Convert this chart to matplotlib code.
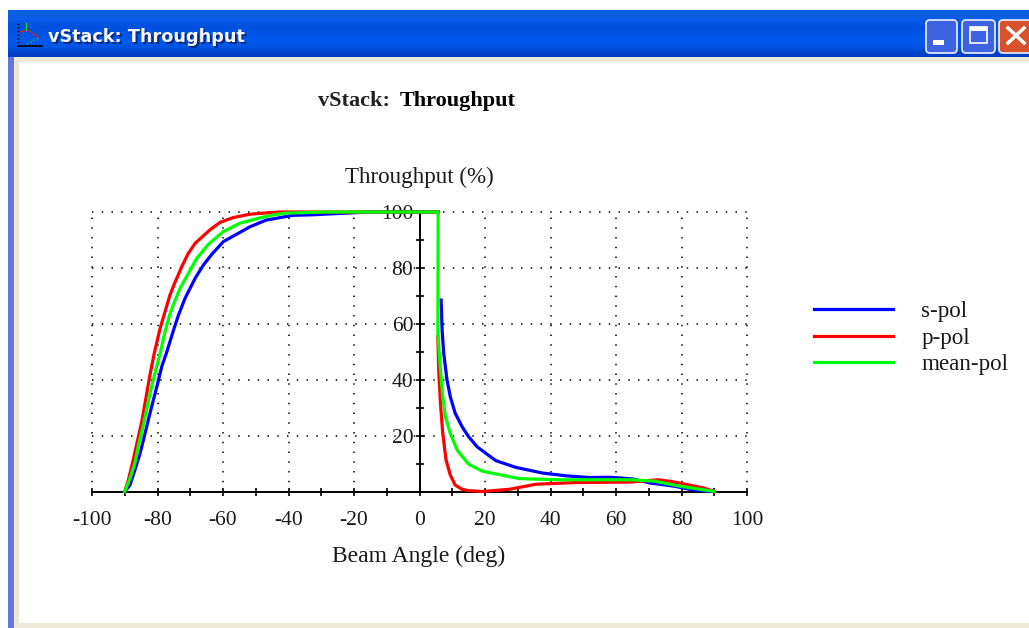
# vStack throughput window, angle vs throughput for s, p and mean polarisation
import numpy as np
import matplotlib
matplotlib.use('Agg')
import matplotlib.pyplot as plt
from matplotlib.patches import Rectangle, FancyBboxPatch
from matplotlib.ticker import MultipleLocator

plt.rcParams['axes.unicode_minus'] = False

W, H = 1029, 628

# incident side then the transmitted side
s_angle = [-90, -88.4, -86.9, -85.3, -83.8, -82.3, -80.2, -78.7, -77.2, -75.7, -74.9, -73.6, -71.6, -68.5, -66, -63.4, -59.9, -55.3, -51.8, -48.7, -46.8, -38.7, -32.7, -22.5, -15, 5.7,
           None, 6.6, 6.9, 7.4, 8.4, 9.4, 10.9, 13, 15, 17.6, 21.6, 23.4, 29.5, 37.6, 44.8, 51.9, 58, 65, 70.6, 74.7, 78.3, 83.3, 90]
s_pol = [0, 2.3, 7.7, 13.7, 20.8, 28, 37.5, 44.7, 49.8, 55.5, 58.5, 63.1, 69.1, 76.3, 81, 84.9, 89.4, 92.4, 94.7, 96.2, 97.1, 98.8, 99, 99.6, 100, 100,
         None, 68.5, 57.8, 49.4, 39.9, 33.9, 28, 23.2, 19.6, 16, 12.5, 11, 8.6, 6.6, 5.6, 5, 5.1, 4.5, 3, 2.4, 1.8, 0.6, 0]

p_angle = [-90, -88.9, -87.4, -86.3, -84.8, -83.3, -82.3, -81, -79.2, -77.7, -76.2, -74.6, -72.6, -70.6, -68.5, -64, -60.9, -56.9, -51.8, -48.7, -42.8, 5.7,
           None, 5.6, 5.9, 6.4, 7.1, 8.1, 9.4, 10.9, 13, 15, 19.3, 27.5, 35.6, 47.8, 64.6, 72.7, 76.8, 82, 87, 90]
p_pol = [0, 4.1, 11.3, 17.2, 25, 35, 41.7, 49.4, 58.4, 64.3, 70.3, 75, 80.4, 85.2, 88.8, 93.6, 96.3, 98, 99.2, 99.5, 100, 100,
         None, 55.4, 42.3, 31.6, 20.8, 11.3, 5.9, 2.3, 0.8, 0.3, 0, 0.8, 2.6, 3.2, 3.4, 4.2, 3.6, 2.4, 1.2, 0]

mean_angle = [-90, -88.4, -86.9, -85.9, -84.3, -82.3, -80.8, -79.2, -77.7, -76.2, -74.6, -73.1, -70.6, -68, -64.5, -59.9, -54.8, -48.7, -44.8, -40.8, -28.6, 5.7,
              5.6, 6.4, 7.1, 7.9, 9.4, 11.5, 15, 19.1, 21.6, 30.5, 42.7, 52, 64.6, 71.7, 80, 86.8, 90]
mean_pol = [0, 4.7, 10.1, 16, 23.8, 35, 42.3, 49.4, 57.2, 63.5, 68.5, 72.7, 78, 83.4, 88.4, 93, 96, 97.9, 98.9, 99.6, 100, 100,
            56.7, 43.5, 33.9, 26.8, 20.8, 14.8, 9.8, 7.3, 6.7, 4.6, 4.2, 4.2, 4.2, 3.7, 1.8, 0.6, 0]

x_ticks = [-100, -80, -60, -40, -20, 0, 20, 40, 60, 80, 100]
y_ticks = [20, 40, 60, 80, 100]

SERIF = 'Liberation Serif'

fig = plt.figure(figsize=(W / 100, H / 100), dpi=100, facecolor='white')

# window chrome, in pixel coordinates
chrome = fig.add_axes([0, 0, 1, 1], zorder=0)
chrome.axis('off')
chrome.add_patch(Rectangle((8, 57), W - 8, H - 57, color='#ece9d8', lw=0))
chrome.add_patch(Rectangle((19, 62), W - 19, H - 67, color='white', lw=0))
chrome.add_patch(Rectangle((8, 57), 6, H - 57, color='#6478dc', lw=0))
bar = np.array([[0.05, 0.38, 0.88], [0.03, 0.36, 0.92], [0.0, 0.31, 0.87], [0.0, 0.33, 0.90],
                [0.0, 0.35, 0.93], [0.0, 0.33, 0.90], [0.0, 0.25, 0.78]]).reshape(-1, 1, 3)
chrome.imshow(bar, extent=(8, W, 57, 10), aspect='auto', interpolation='bilinear', zorder=1)
chrome.set_xlim(0, W)
chrome.set_ylim(H, 0)

# little chart icon
chrome.plot([18, 18], [23, 45], color='black', lw=1, ls=':', zorder=2)
chrome.plot([18, 42], [45.5, 45.5], color='black', lw=1.2, zorder=2)
chrome.plot([20, 28, 38], [32, 30, 37], color='#d02030', lw=1, zorder=2)
chrome.plot([20, 30, 42], [43, 36, 28], color='#3050e0', lw=1, ls=':', zorder=2)
chrome.plot([26, 26], [23, 30], color='#20d020', lw=1, zorder=2)
chrome.plot([27, 40], [44, 37], color='#20d020', lw=1, ls=':', zorder=2)

chrome.text(50, 38.5, 'vStack: Throughput', color='#0a2a80', fontsize=12.7, fontweight='bold',
            family='DejaVu Sans', va='center', zorder=2)
chrome.text(48.5, 37.5, 'vStack: Throughput', color='#f4f6ff', fontsize=12.7, fontweight='bold',
            family='DejaVu Sans', va='center', zorder=3)

# caption buttons
for bx, bw, col in [(926, 31, '#3d63e0'), (962, 33, '#3d63e0'), (999, 33, '#d8502c')]:
    chrome.add_patch(FancyBboxPatch((bx, 20), bw, 33, boxstyle='round,pad=0,rounding_size=4',
                                    fc=col, ec='#dfe6fb', lw=1.3, zorder=2))
chrome.add_patch(Rectangle((933, 40), 11, 5, color='white', lw=0, zorder=3))
chrome.add_patch(Rectangle((970, 27), 17, 16, fill=False, ec='white', lw=1.2, zorder=3))
chrome.add_patch(Rectangle((970, 27), 17, 4, color='white', lw=0, zorder=3))
chrome.plot([1008, 1024], [28, 43], color='white', lw=2.5, zorder=3)
chrome.plot([1008, 1024], [43, 28], color='white', lw=2.5, zorder=3)

# the plot itself
ax = fig.add_axes([92 / W, 1 - 491.5 / H, 655 / W, 279.5 / H], zorder=1)
ax.patch.set_alpha(0)
ax.set_xlim(-100, 100)
ax.set_ylim(0, 100)

for gx in x_ticks:
    if gx != 0:
        ax.axvline(gx, color='#222222', lw=1.3, ls=(0, (0.8, 4.6)), clip_on=False, zorder=1)
for gy in y_ticks:
    ax.axhline(gy, color='#222222', lw=1.3, ls=(0, (0.8, 4.6)), clip_on=False, zorder=1)

for name in ['top', 'right']:
    ax.spines[name].set_visible(False)
ax.spines['left'].set_position(('data', 0))
ax.spines['bottom'].set_position(('data', 0))
ax.spines['left'].set_linewidth(1.4)
ax.spines['bottom'].set_linewidth(1.4)

s_x = np.array(s_angle, dtype=float)
s_y = np.array(s_pol, dtype=float)
p_x = np.array(p_angle, dtype=float)
p_y = np.array(p_pol, dtype=float)
line_s, = ax.plot(s_x, s_y, color='#0000ff', lw=2.3, label='s-pol', zorder=3, clip_on=False)
line_p, = ax.plot(p_x, p_y, color='#ff0000', lw=2.3, label='p-pol', zorder=4, clip_on=False)
line_m, = ax.plot(mean_angle, mean_pol, color='#00ff00', lw=2.3, label='mean-pol', zorder=5, clip_on=False)

ax.set_xticks(x_ticks)
ax.set_yticks(y_ticks)
ax.xaxis.set_minor_locator(MultipleLocator(10))
ax.yaxis.set_minor_locator(MultipleLocator(10))
ax.tick_params(axis='both', which='both', direction='inout', width=1.2, labelsize=15.5, color='black',
               labelcolor='#1a1a1a', length=6)
ax.tick_params(axis='x', which='major', pad=11)
ax.tick_params(axis='y', which='major', pad=1.5)
for lab in ax.get_xticklabels() + ax.get_yticklabels():
    lab.set_family(SERIF)

fig.text(318 / W, 1 - 106 / H, 'vStack:', family=SERIF, fontsize=16, fontweight='bold', va='baseline', color='#222222')
fig.text(400 / W, 1 - 106 / H, 'Throughput', family=SERIF, fontsize=16, fontweight='bold', va='baseline', color='black')
fig.text(419 / W, 1 - 177 / H, 'Throughput (%)', family=SERIF, fontsize=16.6, ha='center', va='center', color='#1a1a1a')
fig.text(418.5 / W, 1 - 556 / H, 'Beam Angle (deg)', family=SERIF, fontsize=17, ha='center', va='center', color='#1a1a1a')

leg = fig.legend(handles=[line_s, line_p, line_m], loc='center left', bbox_to_anchor=(793 / W, 1 - 338 / H),
                 frameon=False, handlelength=3.45, handletextpad=1.22, labelspacing=0.22,
                 prop={'family': SERIF, 'size': 16.6})
for t in leg.get_texts():
    t.set_color('#1a1a1a')

fig.savefig('out.png', dpi=100)
